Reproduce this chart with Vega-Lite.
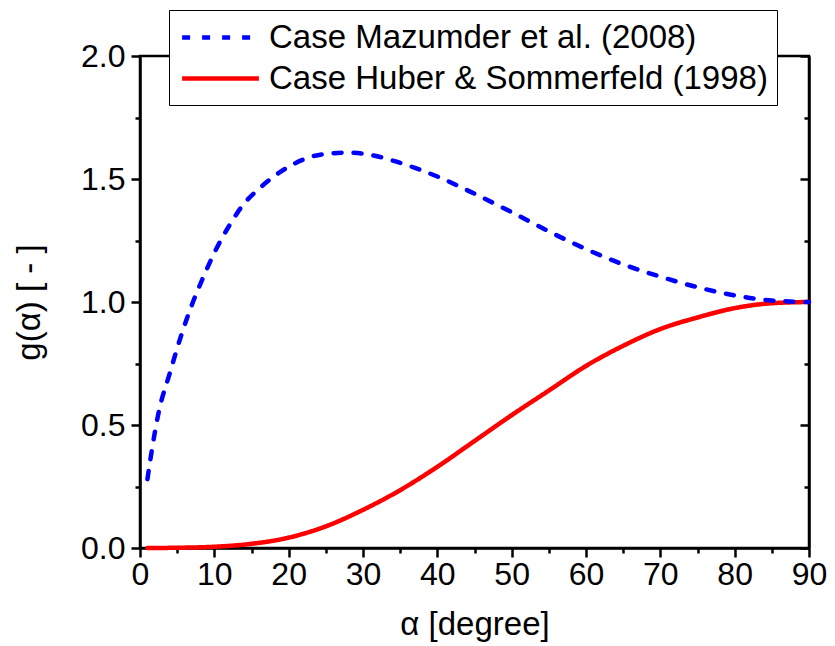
{
  "$schema": "https://vega.github.io/schema/vega-lite/v6.json",
  "width": 669,
  "height": 492,
  "autosize": "none",
  "padding": {"left": 140, "top": 56, "right": 26, "bottom": 98},
  "config": {
    "font": "Liberation Sans",
    "view": {"stroke": "black", "strokeWidth": 2.5},
    "axis": {"domainColor": "black", "domainWidth": 2.5, "tickColor": "black", "tickWidth": 2.5, "labelColor": "black", "titleColor": "black", "labelFont": "Liberation Sans", "titleFont": "Liberation Sans", "labelFontSize": 32, "titleFontSize": 33, "titleFontWeight": "normal", "grid": false}
  },
  "data": {"values": [
    {"s": "Case Huber & Sommerfeld (1998)", "a": 1, "g": 0.0},
    {"s": "Case Huber & Sommerfeld (1998)", "a": 5, "g": 0.001},
    {"s": "Case Huber & Sommerfeld (1998)", "a": 10, "g": 0.005},
    {"s": "Case Huber & Sommerfeld (1998)", "a": 15, "g": 0.017},
    {"s": "Case Huber & Sommerfeld (1998)", "a": 20, "g": 0.042},
    {"s": "Case Huber & Sommerfeld (1998)", "a": 25, "g": 0.088},
    {"s": "Case Huber & Sommerfeld (1998)", "a": 30, "g": 0.155},
    {"s": "Case Huber & Sommerfeld (1998)", "a": 35, "g": 0.235},
    {"s": "Case Huber & Sommerfeld (1998)", "a": 40, "g": 0.33},
    {"s": "Case Huber & Sommerfeld (1998)", "a": 45, "g": 0.435},
    {"s": "Case Huber & Sommerfeld (1998)", "a": 50, "g": 0.54},
    {"s": "Case Huber & Sommerfeld (1998)", "a": 55, "g": 0.64},
    {"s": "Case Huber & Sommerfeld (1998)", "a": 60, "g": 0.74},
    {"s": "Case Huber & Sommerfeld (1998)", "a": 65, "g": 0.822},
    {"s": "Case Huber & Sommerfeld (1998)", "a": 70, "g": 0.89},
    {"s": "Case Huber & Sommerfeld (1998)", "a": 75, "g": 0.937},
    {"s": "Case Huber & Sommerfeld (1998)", "a": 80, "g": 0.975},
    {"s": "Case Huber & Sommerfeld (1998)", "a": 85, "g": 0.995},
    {"s": "Case Huber & Sommerfeld (1998)", "a": 90, "g": 1.0},
    {"s": "Case Mazumder et al. (2008)", "a": 1, "g": 0.28},
    {"s": "Case Mazumder et al. (2008)", "a": 1.5, "g": 0.38},
    {"s": "Case Mazumder et al. (2008)", "a": 2.5, "g": 0.55},
    {"s": "Case Mazumder et al. (2008)", "a": 4, "g": 0.71},
    {"s": "Case Mazumder et al. (2008)", "a": 5.5, "g": 0.86},
    {"s": "Case Mazumder et al. (2008)", "a": 7, "g": 0.99},
    {"s": "Case Mazumder et al. (2008)", "a": 8.5, "g": 1.1},
    {"s": "Case Mazumder et al. (2008)", "a": 10, "g": 1.2},
    {"s": "Case Mazumder et al. (2008)", "a": 12, "g": 1.31},
    {"s": "Case Mazumder et al. (2008)", "a": 14, "g": 1.4},
    {"s": "Case Mazumder et al. (2008)", "a": 16, "g": 1.46},
    {"s": "Case Mazumder et al. (2008)", "a": 18, "g": 1.51},
    {"s": "Case Mazumder et al. (2008)", "a": 20, "g": 1.55},
    {"s": "Case Mazumder et al. (2008)", "a": 23, "g": 1.59},
    {"s": "Case Mazumder et al. (2008)", "a": 26, "g": 1.605},
    {"s": "Case Mazumder et al. (2008)", "a": 28, "g": 1.607},
    {"s": "Case Mazumder et al. (2008)", "a": 31, "g": 1.598},
    {"s": "Case Mazumder et al. (2008)", "a": 34, "g": 1.575},
    {"s": "Case Mazumder et al. (2008)", "a": 37, "g": 1.545},
    {"s": "Case Mazumder et al. (2008)", "a": 40, "g": 1.51},
    {"s": "Case Mazumder et al. (2008)", "a": 45, "g": 1.44},
    {"s": "Case Mazumder et al. (2008)", "a": 50, "g": 1.365},
    {"s": "Case Mazumder et al. (2008)", "a": 55, "g": 1.287},
    {"s": "Case Mazumder et al. (2008)", "a": 60, "g": 1.215},
    {"s": "Case Mazumder et al. (2008)", "a": 65, "g": 1.153},
    {"s": "Case Mazumder et al. (2008)", "a": 70, "g": 1.103},
    {"s": "Case Mazumder et al. (2008)", "a": 75, "g": 1.06},
    {"s": "Case Mazumder et al. (2008)", "a": 80, "g": 1.027},
    {"s": "Case Mazumder et al. (2008)", "a": 85, "g": 1.006},
    {"s": "Case Mazumder et al. (2008)", "a": 90, "g": 1.0}
  ]},
  "layer": [
    {
      "mark": {"type": "line", "strokeWidth": 4.5, "strokeCap": "round", "interpolate": "monotone"},
      "encoding": {
        "x": {"field": "a", "type": "quantitative", "scale": {"domain": [0, 90], "nice": false},
          "axis": {"title": "α [degree]", "values": [0,5,10,15,20,25,30,35,40,45,50,55,60,65,70,75,80,85,90],
            "labelExpr": "datum.value % 10 === 0 ? datum.value : ''",
            "tickSize": {"condition": {"test": "datum.value % 10 === 0", "value": 9}, "value": 5},
            "labelPadding": 2, "titlePadding": 18, "labelFlush": false}},
        "y": {"field": "g", "type": "quantitative", "scale": {"domain": [0, 2], "nice": false},
          "axis": {"title": "g(α) [ - ]", "values": [0,0.25,0.5,0.75,1,1.25,1.5,1.75,2],
            "labelExpr": "datum.value % 0.5 === 0 ? format(datum.value, '.1f') : ''",
            "tickSize": {"condition": {"test": "datum.value % 0.5 === 0", "value": 9}, "value": 5},
            "labelPadding": 6, "titlePadding": 34, "labelFlush": false}},
        "color": {"field": "s", "type": "nominal",
          "scale": {"domain": ["Case Mazumder et al. (2008)", "Case Huber & Sommerfeld (1998)"], "range": ["#0000FF", "#FF0000"]},
          "legend": {"title": null, "orient": "none", "legendX": 29, "legendY": -46, "fillColor": "white", "strokeColor": "black", "padding": 9,
            "symbolType": "M-2.4,0H2.4", "symbolSize": 1024, "symbolStrokeWidth": 4.5, "symbolOffset": 24, "labelFontSize": 33, "labelFont": "Liberation Sans", "labelColor": "black", "labelOffset": 30, "labelLimit": 600, "rowPadding": 5}},
        "strokeDash": {"field": "s", "type": "nominal",
          "scale": {"domain": ["Case Mazumder et al. (2008)", "Case Huber & Sommerfeld (1998)"], "range": [[8, 12], [1, 0]]},
          "legend": {"title": null}}
      }
    },
    {
      "mark": {"type": "line", "opacity": 0},
      "encoding": {
        "x": {"field": "a", "type": "quantitative", "axis": null},
        "y": {"field": "g", "type": "quantitative",
          "axis": {"orient": "right", "title": null, "labels": false, "values": [0,0.25,0.5,0.75,1,1.25,1.5,1.75,2],
            "tickSize": {"condition": {"test": "datum.value % 0.5 === 0", "value": -9}, "value": -5}}}
      }
    }
  ],
  "resolve": {"axis": {"y": "independent", "x": "independent"}}
}
